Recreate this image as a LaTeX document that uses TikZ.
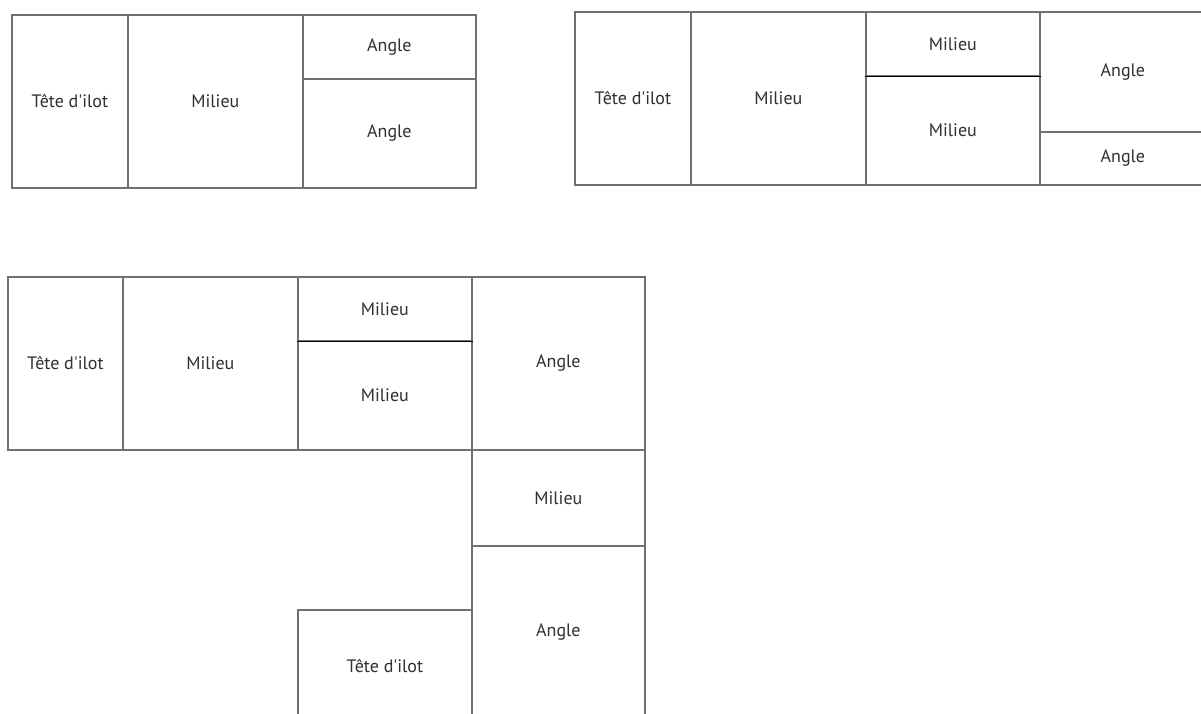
\documentclass[tikz,border=0pt]{standalone}
\usepackage{fontspec}
\setmainfont{PT Sans}
\definecolor{linegray}{HTML}{707070}
\definecolor{textgray}{HTML}{303030}
\newcommand{\tete}{Tête d\textquotesingle ilot}
\begin{document}
\begin{tikzpicture}[x=1pt,y=-1pt,
  cell/.style n args={2}{draw=linegray, line width=1.8pt, rectangle, inner sep=0pt,
    anchor=north west, minimum width=#1pt, minimum height=#2pt,
    text=textgray, font=\fontsize{18}{20}\selectfont},
  divider/.style={draw=black, line width=1.1pt}]
\clip (0,0) rectangle (1201,713);
\fill[white] (0,0) rectangle (1201,713);
% top left
\node[cell={116}{173}] (tl1) at (11,14) {\tete};
\node[cell={175}{173}] (tl2) at (127,14) {Milieu};
\node[cell={173}{64}]  (tl3) at (302,14) {Angle};
\node[cell={173}{109}] (tl4) at (302,78) {Angle};
% top right
\node[cell={116}{173}] (tr1) at (574,11) {\tete};
\node[cell={175}{173}] (tr2) at (690,11) {Milieu};
\node[cell={174}{64}]  (tr3) at (865,11) {Milieu};
\node[cell={174}{109}] (tr4) at (865,75) {Milieu};
\node[cell={166}{120}] (tr5) at (1039,11) {Angle};
\node[cell={166}{53}]  (tr6) at (1039,131) {Angle};
\draw[divider] (tr3.south west) -- (tr3.south east);
% bottom
\node[cell={115}{173}] (b1) at (7,276) {\tete};
\node[cell={175}{173}] (b2) at (122,276) {Milieu};
\node[cell={174}{64}]  (b3) at (297,276) {Milieu};
\node[cell={174}{109}] (b4) at (297,340) {Milieu};
\node[cell={173}{173}] (b5) at (471,276) {Angle};
\node[cell={173}{96}]  (b6) at (471,449) {Milieu};
\node[cell={173}{172}] (b7) at (471,545) {Angle};
\node[cell={174}{112}] (b8) at (297,609) {\tete};
\draw[divider] (b3.south west) -- (b3.south east);
\end{tikzpicture}
\end{document}
